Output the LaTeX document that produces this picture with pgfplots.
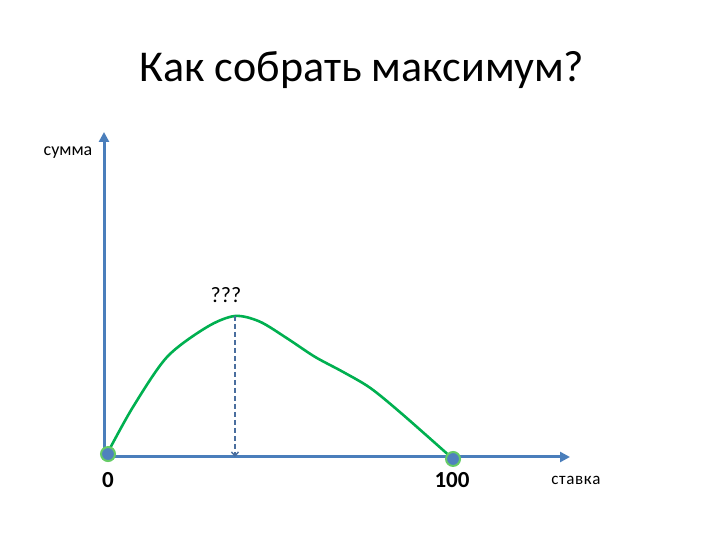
\documentclass[border=0pt]{standalone}
\usepackage{pgfplots}
\pgfplotsset{compat=1.18}
\usepackage{fontspec}
\setmainfont{Carlito}
\usetikzlibrary{arrows.meta}
\definecolor{axblue}{HTML}{4A7EBB}
\definecolor{dashblue}{HTML}{4A6E9E}
\definecolor{curvegreen}{HTML}{00B050}
\definecolor{ringgreen}{HTML}{66CC66}
\definecolor{dotblue}{HTML}{4F81BD}

\begin{document}
\begin{tikzpicture}
\path[use as bounding box] (0,0) rectangle (720pt,540pt);
\node[font=\fontsize{44}{52}\selectfont] at (362pt,470pt) {Как собрать максимум?};
\begin{axis}[
  at={(104pt,83pt)}, anchor=south west,
  scale only axis, width=466pt, height=325pt,
  xmin=-1.16, xmax=133.9, ymin=0, ymax=230.5,
  axis lines=left,
  axis line style={line width=3pt, color=axblue, -{Triangle[length=10pt,width=10pt]}},
  xtick=\empty, ytick=\empty,
  clip=false
]
% profit curve
\addplot[smooth, line width=2.6pt, color=curvegreen] coordinates {
  (0,3.5) (7.25,35.5) (17.1,70.9) (28.7,92.2) (36.8,100)
  (44,96) (52,84) (60,71) (68,60.5) (76,49) (85,31) (100,-1.4)};
% drop line from the peak
\addplot[line width=1.4pt, color=dashblue, dash pattern=on 5pt off 3pt,
  -{Straight Barb[length=4pt,width=7pt]}]
  coordinates {(36.8,100) (36.8,0)};
% end points
\addplot[only marks, mark=*, mark size=7pt, mark options={fill=dotblue, draw=ringgreen, line width=2pt}]
  coordinates {(0,2.1) (100,-1.4)};
\node[font=\fontsize{23}{27}\selectfont\bfseries] at (axis cs:0,-16.3) {0};
\node[font=\fontsize{23}{27}\selectfont\bfseries] at (axis cs:99.7,-16.3) {100};
\node[font=\fontsize{17}{20}\selectfont] at (axis cs:135.6,-16.3) {с\kern0.6pt т\kern0.6pt а\kern0.6pt в\kern0.6pt к\kern0.6pt а};
\node[font=\fontsize{18}{22}\selectfont] at (axis cs:-11.6,216) {сумма};
\node[font=\fontsize{22}{26}\selectfont] at (axis cs:34.2,114.5) {???};
\end{axis}
\end{tikzpicture}
\end{document}
